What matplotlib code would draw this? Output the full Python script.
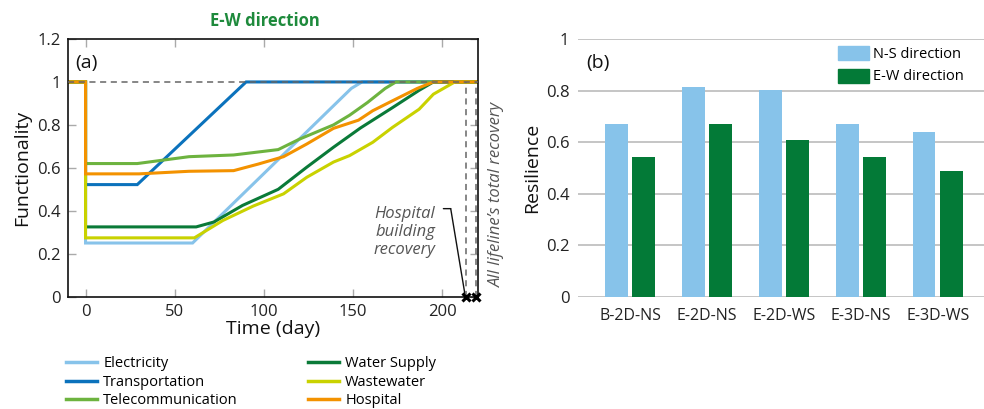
import matplotlib
matplotlib.use("Agg")
import matplotlib.pyplot as plt
from matplotlib.ticker import FuncFormatter
from matplotlib.patches import Patch
from matplotlib.lines import Line2D

plt.rcParams['font.family'] = ['Open Sans', 'DejaVu Sans']

# ---------------- data: panel (a) ----------------
elec_t = [-10, 0, 0, 60, 149, 155, 220]
elec_v = [1, 1, 0.25, 0.25, 0.97, 1, 1]

trans_t = [-10, 0, 0, 29, 90, 220]
trans_v = [1, 1, 0.522, 0.522, 1, 1]

tele_t = [-10, 0, 0, 29, 58, 83, 108, 120, 139, 148, 158, 168, 174, 220]
tele_v = [1, 1, 0.62, 0.62, 0.652, 0.66, 0.685, 0.734, 0.80, 0.845, 0.904, 0.97, 1, 1]

water_t = [-10, 0, 0, 62, 72, 88, 108, 124, 139, 154, 172, 187, 195, 220]
water_v = [1, 1, 0.325, 0.325, 0.348, 0.425, 0.50, 0.603, 0.696, 0.785, 0.88, 0.961, 1, 1]

waste_t = [-10, 0, 0, 61, 77, 94, 111, 124, 139, 148, 161, 172, 187, 195, 207, 220]
waste_v = [1, 1, 0.274, 0.274, 0.355, 0.422, 0.479, 0.556, 0.627, 0.657, 0.719, 0.788, 0.873, 0.943, 1, 1]

hosp_t = [-10, 0, 0, 30, 58, 83, 97, 111, 124, 139, 153, 161, 172, 186, 195, 220]
hosp_v = [1, 1, 0.572, 0.572, 0.584, 0.587, 0.618, 0.652, 0.711, 0.784, 0.822, 0.866, 0.912, 0.97, 1, 1]

series_names = ["Electricity", "Transportation", "Telecommunication",
                "Water Supply", "Wastewater", "Hospital"]
series_colors = ["#87C3EA", "#0B72BC", "#6DB33F", "#0A7A38", "#C9D200", "#F39200"]

hospital_recovery_day = 213
total_recovery_day = 219

# ---------------- data: panel (b) ----------------
cases = ["B-2D-NS", "E-2D-NS", "E-2D-WS", "E-3D-NS", "E-3D-WS"]
res_ns = [0.670, 0.814, 0.802, 0.670, 0.639]
res_ew = [0.542, 0.670, 0.608, 0.542, 0.488]

W, H = 984, 409
fig = plt.figure(figsize=(W / 100, H / 100), dpi=100)

# ---------------- panel (a) ----------------
ax = fig.add_axes([67.7 / W, 1 - 296.7 / H, 410.3 / W, (296.7 - 39) / H])
data = [(elec_t, elec_v), (trans_t, trans_v), (tele_t, tele_v),
        (water_t, water_v), (waste_t, waste_v), (hosp_t, hosp_v)]
for i, (t, v) in enumerate(data):
    ax.plot(t, v, color=series_colors[i], lw=2.2, solid_joinstyle='miter', zorder=2 + i * 0.1)

ax.axhline(1, color="#666666", lw=1.1, ls=(0, (4, 3)), zorder=4)
for d in (hospital_recovery_day, total_recovery_day):
    ax.plot([d, d], [0, 1], color="#666666", lw=1.1, ls=(0, (4, 3)), zorder=4)
ax.plot([hospital_recovery_day, total_recovery_day], [0, 0], ls='none', marker='x',
        color='black', ms=6, mew=2.2, zorder=6, clip_on=False)

ax.set_xlim(-10, 220)
ax.set_ylim(0, 1.2)
ax.set_xticks([0, 50, 100, 150, 200])
ax.set_yticks([0, 0.2, 0.4, 0.6, 0.8, 1.0, 1.2])
ax.yaxis.set_major_formatter(FuncFormatter(lambda v, p: "%g" % round(v, 2)))
ax.tick_params(direction='in', length=6, width=1, color="#AAAAAA",
               top=True, right=True, labelsize=12, labelcolor="#222222", pad=5)
for s in ax.spines.values():
    s.set_color("#111111")
    s.set_linewidth(1.2)
ax.set_xlabel("Time (day)", fontsize=14, labelpad=0, color="#111111")
ax.set_ylabel("Functionality", fontsize=14, labelpad=4, color="#111111")
ax.set_title("E-W direction", fontsize=12, fontweight='bold', color="#1E8A3C", pad=9, x=0.48)
ax.text(0.018, 0.905, "(a)", transform=ax.transAxes, fontsize=14, color="#111111",
        va='center', ha='left')

ax.text(196, 0.30, "Hospital\nbuilding\nrecovery", ha='right', va='center',
        fontsize=12, style='italic', color="#555555", linespacing=1.15)
# leader line: short horizontal then diagonal to the marker
bend = (204.7, 0.41)
ax.annotate("", xy=bend, xytext=(200.6, 0.41),
            arrowprops=dict(arrowstyle='-', color='#111111', lw=1, shrinkA=0, shrinkB=0))
ax.annotate("", xy=(hospital_recovery_day - 0.3, 0.01), xytext=bend,
            arrowprops=dict(arrowstyle='-', color='#111111', lw=1, shrinkA=0, shrinkB=0))
fig.text(497 / W, 1 - 287 / H, "All lifeline\u2019s total recovery", rotation=90,
         ha='center', va='bottom', fontsize=12, style='italic', color="#555555")

h1 = [Line2D([], [], color=series_colors[i], lw=2.5) for i in range(3)]
h2 = [Line2D([], [], color=series_colors[i], lw=2.5) for i in range(3, 6)]
common = dict(frameon=False, fontsize=10.5, handlelength=2.1, handletextpad=0.45,
              labelspacing=0.25, borderaxespad=0, borderpad=0, loc='upper left')
fig.legend(h1, series_names[:3], bbox_to_anchor=(66 / W, 1 - 356 / H), **common)
fig.legend(h2, series_names[3:], bbox_to_anchor=(308 / W, 1 - 356 / H), **common)

# ---------------- panel (b) ----------------
bx = fig.add_axes([577.7 / W, 1 - 296.7 / H, (W - 577.7) / W, (296.7 - 39) / H])
xs = list(range(len(cases)))
bw = 0.295
off = 0.178
bx.bar([x - off for x in xs], res_ns, width=bw, color="#87C3EA", label="N-S direction", zorder=3)
bx.bar([x + off for x in xs], res_ew, width=bw, color="#037A37", label="E-W direction", zorder=3)
bx.set_xlim(-0.68, 4.6)
bx.set_ylim(0, 1)
bx.set_yticks([0, 0.2, 0.4, 0.6, 0.8, 1.0])
bx.yaxis.set_major_formatter(FuncFormatter(lambda v, p: "%g" % round(v, 2)))
bx.set_xticks(xs)
bx.set_xticklabels(cases)
bx.grid(axis='y', color="#BBBBBB", lw=1.2, zorder=0)
bx.set_axisbelow(True)
for s in bx.spines.values():
    s.set_visible(False)
bx.tick_params(length=0, labelsize=12, labelcolor="#222222", pad=6)
bx.tick_params(axis='x', labelsize=11.5, pad=8)
bx.set_ylabel("Resilience", fontsize=14, labelpad=3, color="#111111")
bx.text(0.022, 0.905, "(b)", transform=bx.transAxes, fontsize=14, color="#111111",
        va='center', ha='left')
bx.legend(handles=[Patch(color="#87C3EA"), Patch(color="#037A37")],
          labels=["N-S direction", "E-W direction"], loc='upper left',
          bbox_to_anchor=(838 / W, 1 - 46 / H), bbox_transform=fig.transFigure,
          frameon=False, fontsize=10.5, handlelength=2.1, handleheight=1.1,
          handletextpad=0.3, labelspacing=0.45, borderpad=0, borderaxespad=0)

fig.savefig("out.png", dpi=100)
